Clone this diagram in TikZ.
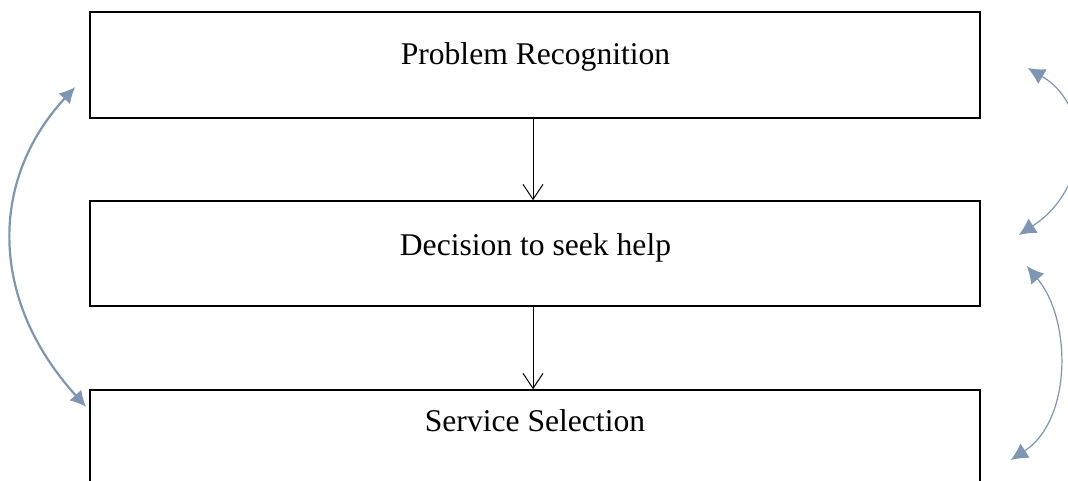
\documentclass[tikz,border=0pt]{standalone}
\usepackage{fontspec}
\setmainfont{Liberation Serif}
\usetikzlibrary{arrows.meta,calc}
\definecolor{loopblue}{HTML}{7F96B2}
\tikzset{
  stagebox/.style={draw=black, line width=1.5pt, minimum width=890pt, inner sep=0pt},
  stagetext/.style={anchor=base, inner sep=0pt, font=\fontsize{31.6}{38}\selectfont},
  flow/.style={draw=black, line width=1pt, -{Straight Barb[length=15pt,width=20pt,line width=1pt]}},
  loopthin/.style={draw=loopblue, line width=1.2pt, {Latex[length=17pt,width=17pt]}-{Latex[length=17pt,width=17pt]}},
  loopthick/.style={draw=loopblue, line width=2.2pt, {Latex[length=16pt,width=16pt]}-{Latex[length=16pt,width=16pt]}}
}
\begin{document}
\begin{tikzpicture}[x=1pt,y=-1pt]
\useasboundingbox (0,0) rectangle (1068,481);
\clip (0,0) rectangle (1068,481);
\fill[white] (0,0) rectangle (1068,481);

% stages
\node[stagebox, minimum height=106pt] (b1) at (535,65) {};
\node[stagebox, minimum height=105pt] (b2) at (535,253.5) {};
\node[stagebox, minimum height=120pt] (b3) at (535,450) {};

\node[stagetext] (t1) at (535.5,65) {Problem Recognition};
\node[stagetext] (t2) at (535.5,255) {Decision to seek help};
\node[stagetext] (t3) at (535,431) {Service Selection};

% forward flow
\draw[flow] (b1.south -| 533,0) -- (b2.north -| 533,0);
\draw[flow] (b2.south -| 533,0) -- (b3.north -| 533,0);

% feedback loops on the right
\draw[loopthin] ($(b1.east)+(47,3)$) .. controls (1091,105) and (1091,188) .. ($(b2.east)+(38,-18.5)$);
\draw[loopthin] ($(b2.east)+(46,12.5)$) .. controls (1072,320) and (1072,420) .. ($(b3.east)+(30,10)$);

% long loop on the left
\draw[loopthick] ($(b1.west)+(-14,22)$) .. controls (-11,180) and (-11,300) .. ($(b3.west)+(-3,-43)$);
\end{tikzpicture}
\end{document}
